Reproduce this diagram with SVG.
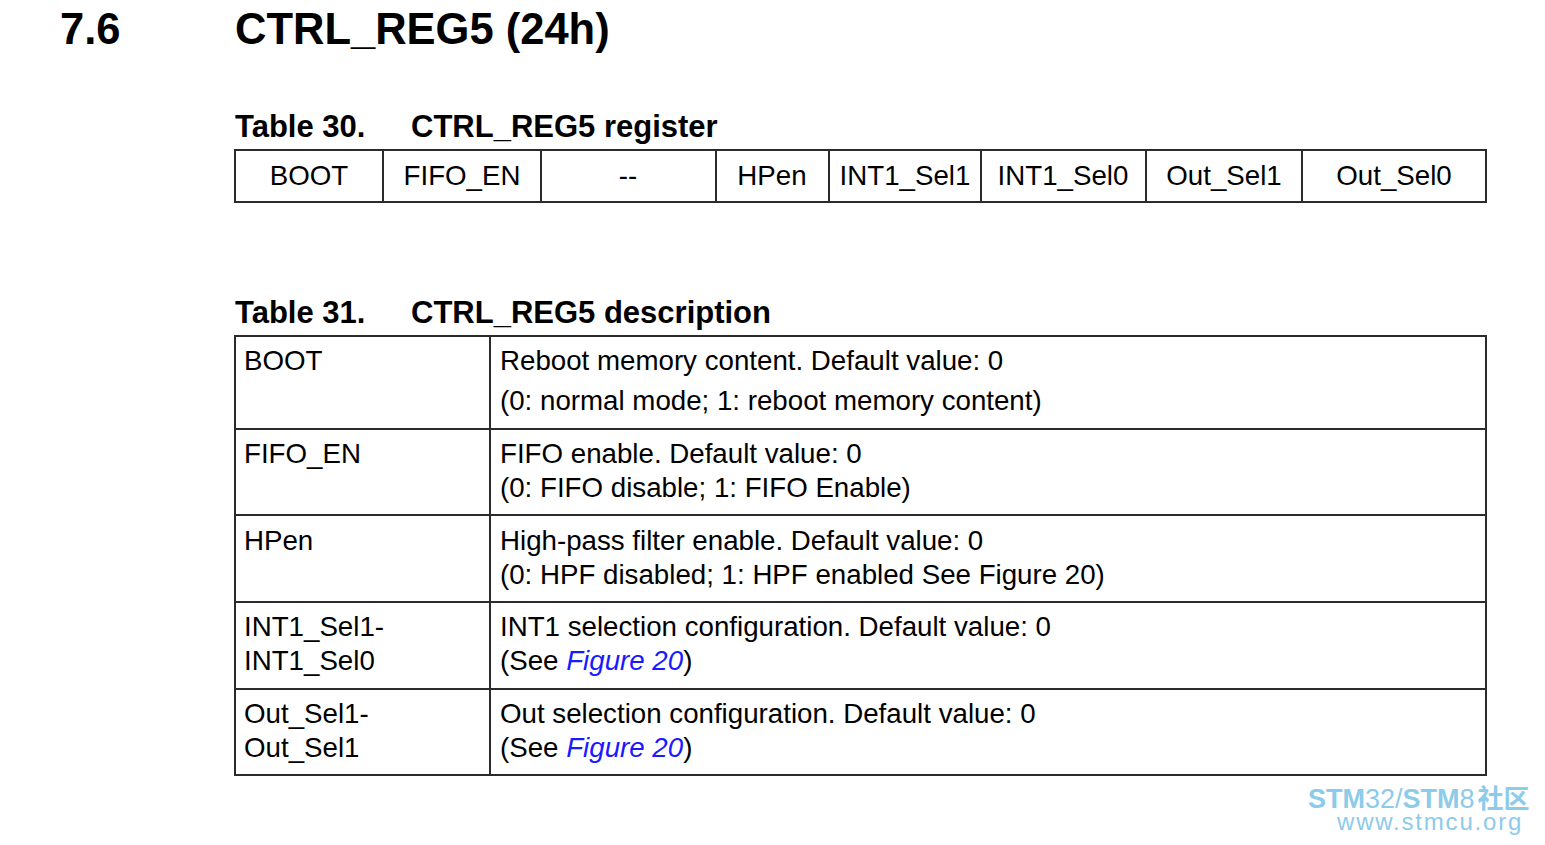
<svg xmlns="http://www.w3.org/2000/svg" width="1545" height="845" viewBox="0 0 1545 845">
<style>
text{font-family:"Liberation Sans",Arial,sans-serif;fill:#000}
.h{font-weight:bold;font-size:43.5px}
.t{font-weight:bold;font-size:31px}
.c{font-size:27.7px}
.m{text-anchor:middle}
.ln{stroke:#2b2b2b;stroke-width:2;fill:none}
.lk{fill:#1a1aff;font-style:italic}
.wm{fill:#8ccbea}
</style>
<rect width="1545" height="845" fill="#fff"/>
<text class="h" x="60" y="44">7.6</text>
<text class="h" x="235" y="44">CTRL_REG5 (24h)</text>
<g id="table30">
<text class="t" x="235" y="137">Table 30.</text>
<text class="t" x="411" y="137">CTRL_REG5 register</text>
<rect class="ln" x="235" y="150" width="1251" height="52"/>
<path class="ln" d="M383 150V202M541 150V202M716 150V202M829 150V202M981 150V202M1146 150V202M1302 150V202"/>
<text class="c m" x="309" y="185">BOOT</text>
<text class="c m" x="462" y="185">FIFO_EN</text>
<text class="c m" x="628" y="185">--</text>
<text class="c m" x="772" y="185">HPen</text>
<text class="c m" x="905" y="185">INT1_Sel1</text>
<text class="c m" x="1063" y="185">INT1_Sel0</text>
<text class="c m" x="1224" y="185">Out_Sel1</text>
<text class="c m" x="1394" y="185">Out_Sel0</text>
</g>
<g id="table31">
<text class="t" x="235" y="323">Table 31.</text>
<text class="t" x="411" y="323">CTRL_REG5 description</text>
<rect class="ln" x="235" y="336" width="1251" height="439"/>
<path class="ln" d="M490 336V775M235 429H1486M235 515H1486M235 602H1486M235 689H1486"/>
<text class="c" x="244" y="370">BOOT</text>
<text class="c" x="500" y="370">Reboot memory content. Default value: 0</text>
<text class="c" x="500" y="410">(0: normal mode; 1: reboot memory content)</text>
<text class="c" x="244" y="463">FIFO_EN</text>
<text class="c" x="500" y="463">FIFO enable. Default value: 0</text>
<text class="c" x="500" y="497">(0: FIFO disable; 1: FIFO Enable)</text>
<text class="c" x="244" y="550">HPen</text>
<text class="c" x="500" y="550">High-pass filter enable. Default value: 0</text>
<text class="c" x="500" y="584">(0: HPF disabled; 1: HPF enabled See Figure 20)</text>
<text class="c" x="244" y="636">INT1_Sel1-</text>
<text class="c" x="244" y="670">INT1_Sel0</text>
<text class="c" x="500" y="636">INT1 selection configuration. Default value: 0</text>
<text class="c" x="500" y="670">(See <tspan class="lk">Figure 20</tspan>)</text>
<text class="c" x="244" y="723">Out_Sel1-</text>
<text class="c" x="244" y="757">Out_Sel1</text>
<text class="c" x="500" y="723">Out selection configuration. Default value: 0</text>
<text class="c" x="500" y="757">(See <tspan class="lk">Figure 20</tspan>)</text>
</g>
<g id="watermark">
<text class="wm" x="1308" y="808" font-size="27"><tspan font-weight="bold">STM</tspan>32/<tspan font-weight="bold">STM</tspan>8<tspan font-family="Noto Sans CJK SC,sans-serif" font-weight="bold" font-size="26" dx="3">社区</tspan></text>
<text class="wm" x="1337" y="830" font-size="24" letter-spacing="1.8">www.stmcu.org</text>
</g>
</svg>
